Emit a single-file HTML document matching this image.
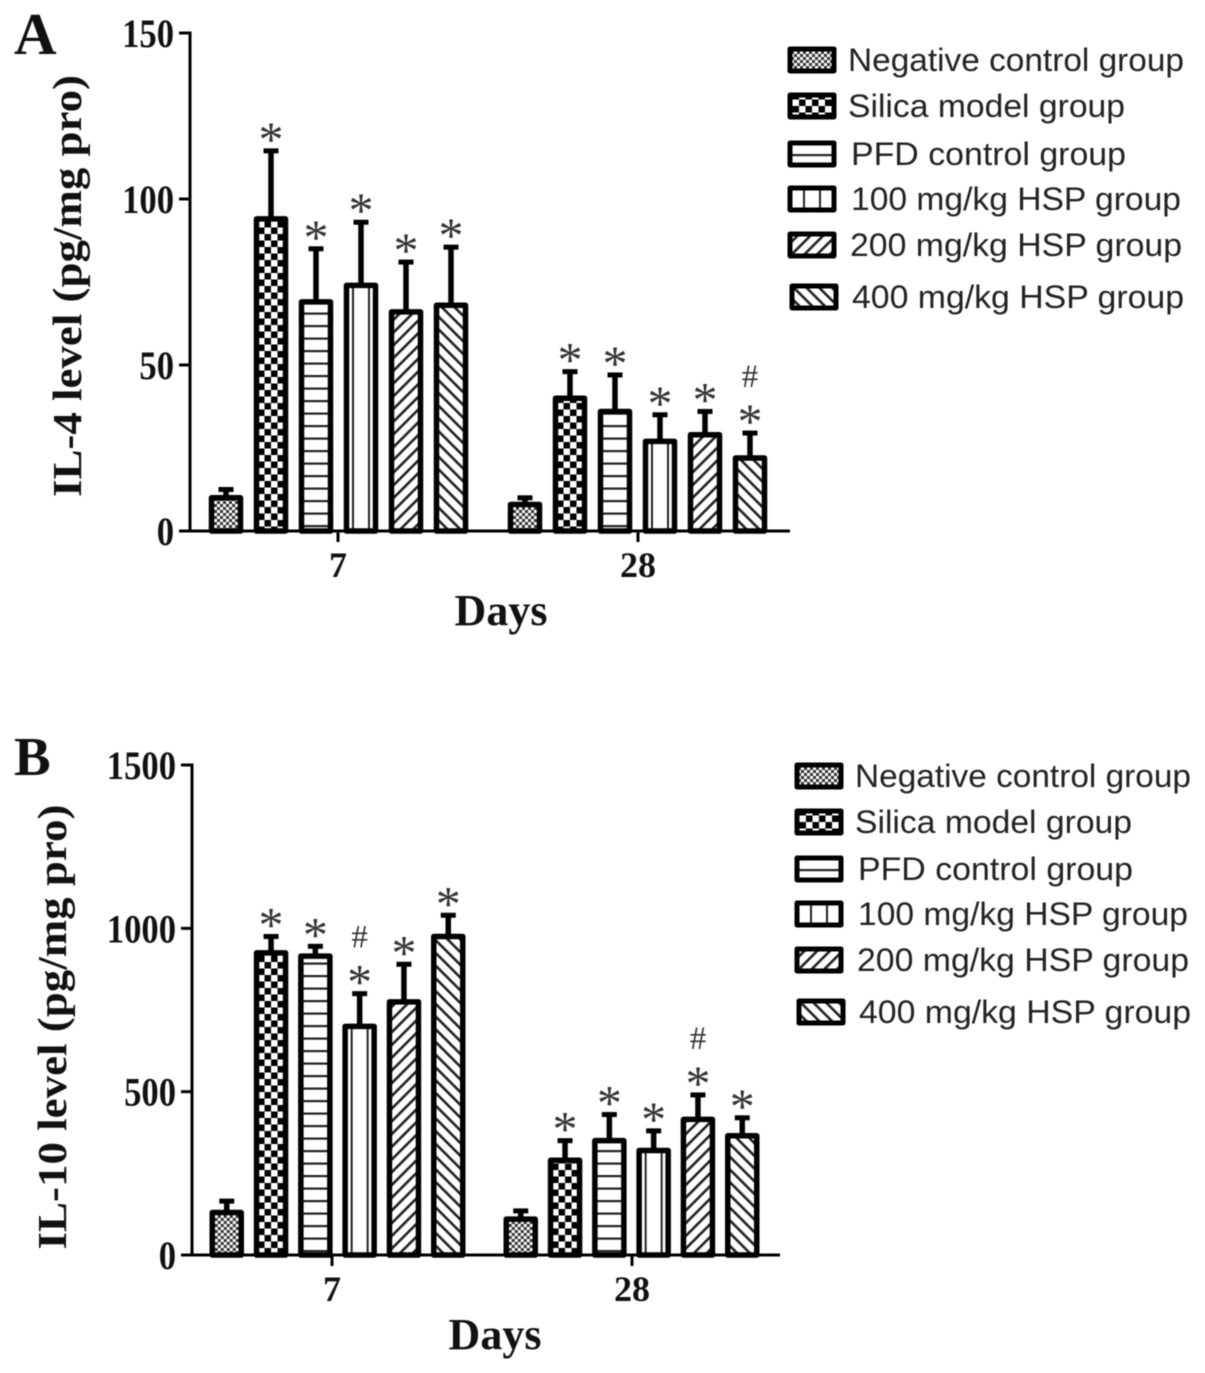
<!DOCTYPE html>
<html>
<head>
<meta charset="utf-8">
<style>
html,body{margin:0;padding:0;background:#fff}
svg{display:block;filter:blur(0.5px)}
.serif{font-family:"Liberation Serif",serif;font-weight:bold;fill:#111}
.sans{font-family:"Liberation Sans",sans-serif;fill:#222}
</style>
</head>
<body>
<svg id="chart" xmlns="http://www.w3.org/2000/svg" width="1205" height="1373" viewBox="0 0 1205 1373">
<defs>
<pattern id="p-neg" patternUnits="userSpaceOnUse" width="6" height="6"><rect width="6" height="6" fill="#fff"/><rect width="3" height="3" fill="#333"/><rect x="3" y="3" width="3" height="3" fill="#333"/></pattern>
<pattern id="p-sil" patternUnits="userSpaceOnUse" width="13" height="13" x="-6.5"><rect width="13" height="13" fill="#fff"/><rect width="6.5" height="6.5" fill="#000"/><rect x="6.5" y="6.5" width="6.5" height="6.5" fill="#000"/></pattern>
<pattern id="p-hor" patternUnits="userSpaceOnUse" width="12.5" height="12.5"><rect width="12.5" height="12.5" fill="#fff"/><rect y="0" width="12.5" height="2.2" fill="#222"/></pattern>
<pattern id="p-ver" patternUnits="userSpaceOnUse" width="16" height="16" x="-8"><rect width="16" height="16" fill="#fff"/><rect x="-1" width="2" height="16" fill="#222"/><rect x="15" width="2" height="16" fill="#222"/></pattern>
<pattern id="p-d1" patternUnits="userSpaceOnUse" width="9" height="9" patternTransform="rotate(45)"><rect width="9" height="9" fill="#fff"/><rect width="2.6" height="9" fill="#222"/></pattern>
<pattern id="p-d2" patternUnits="userSpaceOnUse" width="9" height="9" patternTransform="rotate(-45)"><rect width="9" height="9" fill="#fff"/><rect width="2.6" height="9" fill="#222"/></pattern>
</defs>
</svg>
<script>
var days = ['7', '28'];
var groups = ['Negative control group', 'Silica model group', 'PFD control group', '100 mg/kg HSP group', '200 mg/kg HSP group', '400 mg/kg HSP group'];
var patternIds = ['p-neg', 'p-sil', 'p-hor', 'p-ver', 'p-d1', 'p-d2'];

var il4Ticks = [0, 50, 100, 150];
var il4Values = [[10, 94, 69, 74, 66, 68], [8, 40, 36, 27, 29, 22]];
var il4ErrorTops = [[12.5, 114.5, 85, 93, 81, 85.5], [10, 48, 47, 35, 36, 29.5]];
var il4Stars = [[0, 1, 1, 1, 1, 1], [0, 1, 1, 1, 1, 1]];
var il4Hashes = [[0, 0, 0, 0, 0, 0], [0, 0, 0, 0, 0, 1]];

var il10Ticks = [0, 500, 1000, 1500];
var il10Values = [[130, 925, 915, 700, 775, 975], [110, 290, 350, 320, 415, 365]];
var il10ErrorTops = [[165, 975, 945, 800, 890, 1040], [135, 350, 430, 380, 490, 420]];
var il10Stars = [[0, 1, 1, 1, 1, 1], [0, 1, 1, 1, 1, 1]];
var il10Hashes = [[0, 0, 0, 1, 0, 0], [0, 0, 0, 0, 1, 0]];

var svgNS = 'http://www.w3.org/2000/svg';
var root = document.getElementById('chart');

function mk(parent, tag, attrs, text) {
  var e = document.createElementNS(svgNS, tag);
  for (var k in attrs) e.setAttribute(k, attrs[k]);
  if (text !== undefined) e.textContent = text;
  parent.appendChild(e);
  return e;
}

function drawPanel(cfg) {
  var g = mk(root, 'g', {});
  
  

  function yScale(v) { return cfg.y0 - (v / cfg.yMax) * (cfg.y0 - cfg.y1); }
  function xScale(d, s) { return cfg.groupX[d] + (s - 2.5) * cfg.step; }

  var letter = mk(g, 'text', {x: 14, y: cfg.letterY, 'class': 'serif', 'font-size': cfg.letterSize}, cfg.letter);
  
  

  var title = mk(g, 'text', {
    transform: 'translate(' + cfg.titleX + ',' + cfg.titleY + ') rotate(-90)',
    'text-anchor': 'middle', 'class': 'serif', 'font-size': 41,
    textLength: cfg.titleLen, lengthAdjust: 'spacingAndGlyphs'
  }, cfg.title);
  
  

  var xt = mk(g, 'text', {x: cfg.daysX, y: cfg.y0 + 94, 'text-anchor': 'middle', 'class': 'serif', 'font-size': 44}, 'Days');
  
  

  // bars
  days.forEach(function (day, d) {
    groups.forEach(function (name, s) {
      var cx = xScale(d, s);
      var top = yScale(cfg.values[d][s]);
      var errTop = yScale(cfg.errors[d][s]);
      var bg = mk(g, 'g', {transform: 'translate(' + cx + ',0)'});
      
      
      mk(bg, 'line', {x1: 0, x2: 0, y1: top, y2: errTop, stroke: '#000', 'stroke-width': 5.5});
      mk(bg, 'line', {x1: -7.5, x2: 7.5, y1: errTop, y2: errTop, stroke: '#000', 'stroke-width': 5});
      mk(bg, 'rect', {
        x: -14.5, y: top, width: 29, height: cfg.y0 - top,
        fill: 'url(#' + patternIds[s] + ')', stroke: '#000', 'stroke-width': 5.5, 'stroke-linejoin': 'round'
      });
      if (cfg.stars[d][s]) {
        var st = mk(bg, 'text', {x: 0, y: errTop + 5, 'text-anchor': 'middle', 'font-size': 50, 'font-family': '"Liberation Serif",serif', fill: '#333'}, '*');
        
        
      }
      if (cfg.hashes[d][s]) {
        var h = mk(bg, 'text', {x: 0, y: errTop - 46, 'text-anchor': 'middle', 'font-size': 33, 'font-family': '"Liberation Serif",serif', fill: '#333'}, '#');
        
        
      }
    });
  });

  // axes
  var ax = mk(g, 'g', {stroke: '#000', 'stroke-width': 3});
  
  
  mk(ax, 'line', {x1: cfg.xAxis0, x2: cfg.xAxis0, y1: cfg.y1 - 1.5, y2: cfg.y0 + 1.5});
  mk(ax, 'line', {x1: cfg.xAxis0, x2: cfg.xAxis1, y1: cfg.y0, y2: cfg.y0});

  cfg.ticks.forEach(function (t) {
    var y = yScale(t);
    mk(ax, 'line', {x1: cfg.xAxis0 - 11, x2: cfg.xAxis0, y1: y, y2: y});
    var txt = String(t);
    var lab = mk(g, 'text', {
      x: cfg.xAxis0 - 16, y: y + 14, 'text-anchor': 'end', 'class': 'serif', 'font-size': 40,
      textLength: txt.length * 17.3, lengthAdjust: 'spacingAndGlyphs'
    }, txt);
    
    
  });

  days.forEach(function (day, d) {
    var x = cfg.tickX[d];
    mk(ax, 'line', {x1: x, x2: x, y1: cfg.y0, y2: cfg.y0 + 11});
    var lab = mk(g, 'text', {x: x, y: cfg.y0 + 46, 'text-anchor': 'middle', 'class': 'serif', 'font-size': 36}, day);
    
    
  });

  // legend
  groups.forEach(function (name, s) {
    var ly = cfg.legendY[s];
    var lg = mk(g, 'g', {});
    
    
    var sx = cfg.legendX + (s === 5 ? 2 : 0);
    var gg = mk(lg, 'g', {transform: 'translate(' + (sx + 24) + ',' + ly + ')'});
    mk(gg, 'rect', {x: -22, y: -11, width: 44, height: 22, fill: 'url(#' + patternIds[s] + ')', stroke: '#000', 'stroke-width': 5, 'stroke-linejoin': 'round'});
    mk(lg, 'text', {x: cfg.legendX + cfg.legendText[s], y: ly + 11, 'class': 'sans', 'font-size': 32, textLength: cfg.legendLen[s], lengthAdjust: 'spacingAndGlyphs'}, name);
  });
}

drawPanel({
  name: 'il-4', letter: 'A', letterY: 54, letterSize: 59,
  title: 'IL-4 level (pg/mg pro)', titleX: 81, titleY: 286, titleLen: 422,
  y0: 531, y1: 33, yMax: 150, xAxis0: 190, xAxis1: 790, daysX: 501,
  groupX: [338.5, 637.5], tickX: [338, 638], step: 45,
  ticks: il4Ticks, values: il4Values, errors: il4ErrorTops, stars: il4Stars, hashes: il4Hashes,
  legendX: 788, legendY: [60, 106, 154, 199, 245, 297],
  legendText: [60, 60, 63, 63, 62, 64], legendLen: [336, 277, 275, 330, 332, 332]
});
drawPanel({
  name: 'il-10', letter: 'B', letterY: 775, letterSize: 55,
  title: 'IL-10 level (pg/mg pro)', titleX: 66, titleY: 1027, titleLen: 445,
  y0: 1255, y1: 765, yMax: 1500, xAxis0: 192, xAxis1: 780, daysX: 495,
  groupX: [337.5, 631.5], tickX: [332, 632], step: 44.3,
  ticks: il10Ticks, values: il10Values, errors: il10ErrorTops, stars: il10Stars, hashes: il10Hashes,
  legendX: 795, legendY: [776, 822, 869, 914, 960, 1012],
  legendText: [60, 60, 63, 63, 62, 64], legendLen: [336, 277, 275, 330, 332, 332]
});
</script>
</body>
</html>
